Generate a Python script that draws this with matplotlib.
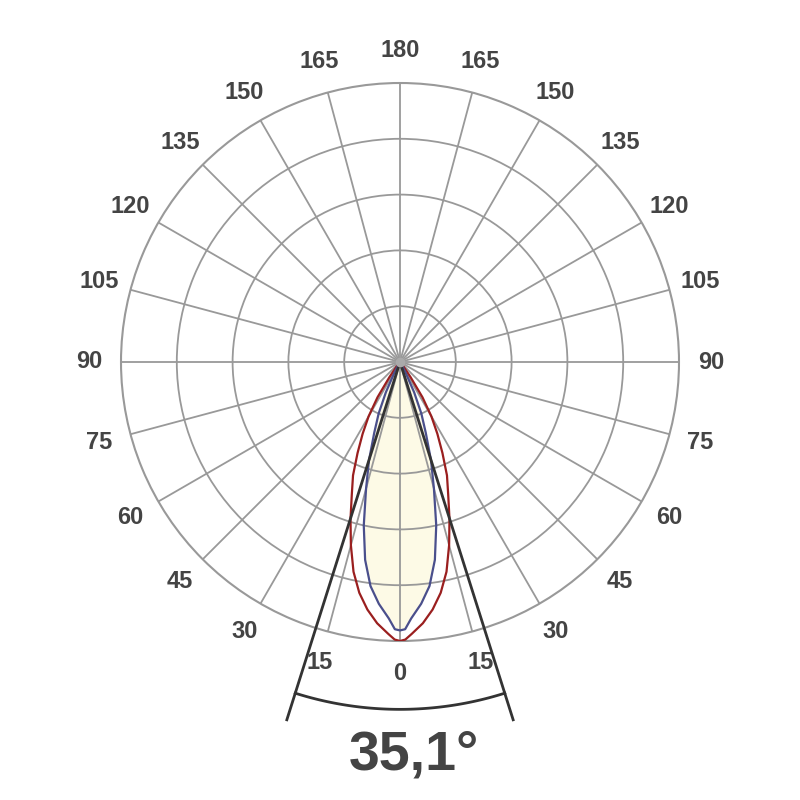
import numpy as np
import matplotlib
matplotlib.use("Agg")
import matplotlib.pyplot as plt

# Half-profile angles (deg from nadir) and relative intensities (symmetric)
angles_deg = [0, 1.1, 2.5, 5, 7.5, 10, 12.5, 15, 17.5, 20, 22.5, 25, 27.5, 30,
              32.5, 35, 37.5, 40, 45, 90]
red_vals = [1.0, 0.995, 0.975, 0.94, 0.895, 0.84, 0.77, 0.68, 0.59, 0.505, 0.44,
            0.36, 0.29, 0.225, 0.15, 0.065, 0.02, 0.005, 0.0, 0.0]
blue_vals = [0.962, 0.958, 0.92, 0.87, 0.81, 0.72, 0.60, 0.47, 0.37, 0.27, 0.20,
             0.12, 0.045, 0.012, 0.003, 0.0, 0.0, 0.0, 0.0, 0.0]

grid_angles = list(range(0, 360, 15))
grid_labels = ["0", "15", "30", "45", "60", "75", "90", "105", "120", "135", "150", "165",
               "180", "165", "150", "135", "120", "105", "90", "75", "60", "45", "30", "15"]
ring_values = [0.2, 0.4, 0.6, 0.8]
beam_angle = 35.1
beam_label = "35,1°"

plt.rcParams['font.family'] = ['Liberation Sans', 'DejaVu Sans']
text_color = "#444444"
grid_color = "#999999"

fig = plt.figure(figsize=(8, 8), dpi=100)
R_px = 279
cx, cy = 400, 362
ax = fig.add_axes([(cx - R_px) / 800, (800 - cy - R_px) / 800, 2 * R_px / 800, 2 * R_px / 800],
                  projection='polar')
ax.set_theta_zero_location('S')
ax.set_theta_direction(1)
ax.set_ylim(0, 1)

def full_curve(vals):
    a = np.array(angles_deg, dtype=float)
    v = np.array(vals, dtype=float)
    th = np.concatenate([-a[::-1], a[1:]])
    r = np.concatenate([v[::-1], v[1:]])
    return np.deg2rad(th), r

th_b, r_b = full_curve(blue_vals)
th_r, r_r = full_curve(red_vals)

ax.fill(th_b, r_b, color="#fdfae6", zorder=1, linewidth=0)
ax.plot(th_r, r_r, color="#9a1f1f", lw=1.6, zorder=3)
ax.plot(th_b, r_b, color="#4a4f8c", lw=1.6, zorder=3)

ax.set_rgrids(ring_values, labels=[])
ax.set_thetagrids(grid_angles, labels=[])
ax.grid(True, color=grid_color, lw=1.3)
ax.spines['polar'].set_color(grid_color)
ax.spines['polar'].set_linewidth(1.5)
ax.tick_params(length=0)

for ang, lab in zip(grid_angles, grid_labels):
    ax.text(np.deg2rad(ang), 1.115, lab, ha='center', va='center', fontsize=17,
            fontweight='bold', color=text_color, clip_on=False)

# Beam angle lines and arc
half = np.deg2rad(beam_angle / 2)
for s in (-1, 1):
    ax.plot([s * half, s * half], [0, 1.345], color="#333333", lw=2.0, clip_on=False, zorder=4)
arc_th = np.linspace(-half, half, 100)
ax.plot(arc_th, np.full_like(arc_th, 1.245), color="#333333", lw=2.0, clip_on=False, zorder=4)
ax.plot([0], [0], 'o', color="#aaaaaa", ms=6, zorder=5)

fig.text(414 / 800, 1 - 756 / 800, beam_label, ha='center', va='center', fontsize=40,
         fontweight='bold', color=text_color)

fig.savefig("out.png", dpi=100, facecolor="white")
